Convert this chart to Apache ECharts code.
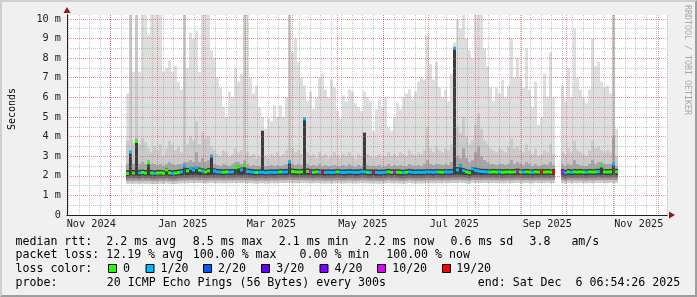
<!DOCTYPE html>
<html><head><meta charset="utf-8">
<script src="https://cdn.jsdelivr.net/npm/echarts@6/dist/echarts.min.js"></script>
<style>
html,body{margin:0;padding:0;background:#f0f0f0;}
#frame{position:relative;width:697px;height:297px;box-sizing:border-box;border-top:2px solid #cfcfcf;border-left:2px solid #cfcfcf;border-right:2px solid #9e9e9e;border-bottom:2px solid #9e9e9e;background:#f0f0f0;}
#chart{position:absolute;left:-2px;top:-2px;width:697px;height:297px;}
</style></head>
<body><div id="frame"><div id="chart"></div></div>
<script>
// ---- axis / time frame (days relative to 2024-12-01 00:00 UTC) ----
const X_MIN = -28.667, X_MAX = 371.333;
const Y_MAX = 10.2;
const DATA_START = 10.667;   // first smoke column
const STEP = 2;              // days per column

const yTickLabels = ['0','1 m','2 m','3 m','4 m','5 m','6 m','7 m','8 m','9 m','10 m'];
const xTickLabels = ['Nov 2024','Jan 2025','Mar 2025','May 2025','Jul 2025','Sep 2025','Nov 2025'];
const xTickMonths = [[2024,10],[2025,0],[2025,2],[2025,4],[2025,6],[2025,8],[2025,10]];

// ---- smoke (ms) ----
const smokeMax = [
6.2,10.3,7.3,10.3,7.3,10.3,10.3,9.2,10.3,10.3,
10.3,10.3,7.3,7.5,7.9,7.3,7.6,6.8,6.4,10.3,
7.5,9.3,9.0,9.4,7.3,10.3,10.3,10.3,8.4,8.0,
7.0,6.5,5.5,5.0,6.3,6.0,7.5,6.8,7.2,10.3,
10.3,7.0,6.2,6.6,5.5,5.0,4.4,4.9,4.8,5.6,
5.0,5.6,5.0,6.0,10.3,8.3,9.0,7.8,7.0,6.6,
5.8,6.3,5.4,6.0,7.0,7.2,6.4,6.0,6.9,6.5,
5.3,4.9,6.1,5.8,6.4,6.3,5.7,5.5,5.3,6.3,
6.0,5.8,4.3,5.4,5.9,5.5,6.0,4.5,4.3,5.0,
5.7,5.4,6.0,6.2,6.4,5.9,6.3,6.8,7.0,6.9,
9.2,7.7,6.9,7.8,6.5,6.0,6.4,5.8,7.2,8.8,
10.0,9.5,10.3,9.0,8.4,8.0,10.3,10.3,10.3,8.5,
7.6,6.5,5.8,6.5,6.2,6.9,6.0,6.6,9.0,7.0,
8.0,7.0,6.5,8.5,6.4,5.5,6.8,4.6,5.0,7.2,
6.0,8.3,6.0,null,null,6.6,5.8,7.5,6.0,9.5,
7.0,6.4,6.0,5.7,6.4,9.0,7.6,7.8,6.8,6.5,
6.6,6.2,10.3,4.4];
const smokeP9 = [
3.8,10.3,3.7,10.3,3.6,3.9,3.7,3.4,3.2,3.5,
3.3,3.6,3.0,3.4,3.8,3.6,3.3,3.5,3.2,10.3,
3.6,4.0,3.8,4.8,3.6,4.2,3.9,4.0,3.5,3.3,
3.1,3.0,3.3,3.2,3.0,3.1,3.4,3.2,3.3,10.3,
3.2,3.0,3.1,2.9,3.0,3.2,3.0,2.9,3.1,3.0,
3.2,3.0,3.1,3.3,10.3,3.4,3.2,3.3,3.1,3.6,
3.2,3.0,3.1,2.9,3.2,3.0,3.1,2.9,3.0,3.2,
3.0,2.9,3.1,3.0,3.2,3.0,2.9,3.1,3.0,3.4,
3.1,3.0,2.9,3.0,3.1,2.9,3.0,3.2,3.0,3.1,
3.0,3.2,3.1,3.0,3.3,3.1,3.0,3.2,3.1,3.3,
4.5,3.4,3.2,3.5,3.3,3.2,3.4,3.3,3.6,4.0,
4.5,4.2,5.0,4.0,3.6,3.8,4.6,5.2,4.4,3.8,
3.6,3.4,3.3,3.2,3.4,3.3,3.2,3.5,3.9,3.4,
3.5,3.3,3.2,3.6,3.3,3.1,3.4,3.0,3.1,3.3,
3.2,3.6,3.1,null,null,3.2,3.1,3.4,3.2,3.8,
3.3,3.2,3.1,3.0,3.3,3.8,3.4,3.5,3.3,3.2,
3.3,3.2,10.3,3.0];
const smokeP8 = [
2.6,3.3,2.6,3.9,2.6,2.7,2.6,2.8,2.6,2.6,
2.55,2.6,2.5,2.6,2.7,2.6,2.55,2.6,2.6,2.7,
2.7,2.8,2.7,3.2,2.7,2.9,2.7,2.8,3.1,2.6,
2.55,2.5,2.6,2.55,2.5,2.6,2.7,2.7,2.6,2.8,
2.6,2.5,2.55,2.5,2.5,2.5,2.5,2.5,2.55,2.5,
2.55,2.5,2.55,2.6,2.8,2.6,2.55,2.6,2.55,2.6,
2.6,2.5,2.55,2.5,2.6,2.5,2.55,2.5,2.5,2.55,
2.5,2.5,2.55,2.5,2.6,2.5,2.45,2.55,2.5,2.5,
2.55,2.5,2.5,2.5,2.55,2.45,2.5,2.6,2.5,2.55,
2.5,2.55,2.5,2.5,2.6,2.55,2.5,2.55,2.5,2.6,
2.8,2.6,2.55,2.6,2.6,2.55,2.6,2.55,2.7,2.7,
3.0,2.9,3.4,2.9,2.7,2.8,3.2,3.5,3.0,2.8,
2.7,2.6,2.6,2.55,2.6,2.6,2.55,2.6,2.8,2.6,
2.7,2.6,2.55,2.7,2.6,2.5,2.6,2.5,2.55,2.6,
2.55,2.7,2.55,null,null,2.6,2.5,2.6,2.55,2.8,
2.6,2.55,2.5,2.5,2.6,2.8,2.6,2.7,2.7,2.6,
2.6,2.6,4.0,2.5];
const smokeP7 = [
2.28,3.25,2.3,3.8,2.3,2.32,2.3,2.7,2.3,2.28,
2.3,2.3,2.28,2.4,2.3,2.28,2.3,2.32,2.35,2.56,
2.4,2.45,2.42,2.5,2.42,2.38,2.35,2.4,3.05,2.38,
2.35,2.34,2.33,2.35,2.34,2.35,2.5,2.52,2.42,2.58,
2.37,2.35,2.33,2.32,2.33,4.3,2.31,2.32,2.33,2.32,
2.33,2.35,2.34,2.35,2.76,2.37,2.35,2.34,2.35,4.95,
2.37,2.35,2.33,2.35,2.34,2.33,2.32,2.33,2.32,2.33,
2.35,2.33,2.32,2.33,2.34,2.33,2.32,2.33,2.35,4.2,
2.33,2.32,2.33,2.32,2.31,2.32,2.33,2.35,2.33,2.34,
2.33,2.32,2.31,2.33,2.35,2.33,2.32,2.33,2.32,2.33,
2.35,2.34,2.33,2.35,2.34,2.33,2.35,2.34,2.35,8.55,
2.45,2.58,2.4,2.35,2.31,2.45,2.42,2.38,2.36,2.35,
2.35,2.34,2.35,2.34,2.35,2.33,2.34,2.35,2.34,2.35,
2.37,2.35,2.34,2.35,2.34,2.33,2.35,2.34,2.35,2.34,
2.35,2.34,2.35,null,null,2.35,2.3,2.35,2.33,2.35,
2.34,2.35,2.34,2.33,2.35,2.34,2.35,2.36,2.56,2.35,
2.34,2.35,2.66,2.35];
const medianRtt = [
2.12,3.2,2.14,3.75,2.15,2.17,2.14,2.65,2.14,2.12,
2.14,2.15,2.13,2.3,2.15,2.12,2.14,2.16,2.2,2.5,
2.25,2.38,2.3,2.42,2.28,2.24,2.2,2.25,3.0,2.24,
2.2,2.19,2.18,2.2,2.19,2.2,2.42,2.45,2.3,2.52,
2.22,2.2,2.18,2.17,2.18,2.18,2.16,2.17,2.18,2.17,
2.18,2.2,2.19,2.2,2.7,2.22,2.2,2.19,2.2,4.9,
2.22,2.2,2.18,2.2,2.19,2.18,2.17,2.18,2.17,2.18,
2.2,2.18,2.17,2.18,2.19,2.18,2.17,2.18,2.2,2.2,
2.18,2.17,2.18,2.17,2.16,2.17,2.18,2.2,2.18,2.19,
2.18,2.17,2.16,2.18,2.2,2.18,2.17,2.18,2.17,2.18,
2.2,2.19,2.18,2.2,2.19,2.18,2.2,2.19,2.2,8.5,
2.3,2.5,2.26,2.2,2.16,2.36,2.28,2.24,2.22,2.21,
2.2,2.19,2.2,2.19,2.2,2.18,2.19,2.2,2.19,2.2,
2.22,2.2,2.19,2.2,2.19,2.18,2.2,2.19,2.2,2.19,
2.2,2.19,2.2,null,null,2.2,2.15,2.2,2.18,2.2,
2.19,2.2,2.19,2.18,2.2,2.19,2.2,2.21,2.5,2.2,
2.19,2.2,2.6,2.2];
const smokeP3 = [
2.0,2.02,2.01,2.02,2.0,2.03,2.01,2.02,2.0,1.99,
2.01,2.02,2.0,2.03,2.01,1.99,2.0,2.02,2.03,2.05,
2.04,2.06,2.05,2.07,2.04,2.05,2.03,2.04,2.06,2.05,
2.05,2.04,2.03,2.05,2.04,2.05,2.06,2.06,2.05,2.07,
2.05,2.04,2.03,2.02,2.03,2.04,2.02,2.03,2.04,2.03,
2.04,2.05,2.04,2.05,2.06,2.05,2.04,2.04,2.05,2.06,
2.05,2.04,2.03,2.05,2.04,2.03,2.02,2.03,2.02,2.03,
2.05,2.03,2.02,2.03,2.04,2.03,2.02,2.03,2.05,2.05,
2.03,2.02,2.03,2.02,2.01,2.02,2.03,2.05,2.03,2.04,
2.03,2.02,2.01,2.03,2.05,2.03,2.02,2.03,2.02,2.03,
2.05,2.04,2.03,2.05,2.04,2.03,2.05,2.04,2.05,2.06,
2.06,2.07,2.05,2.04,2.01,2.06,2.05,2.05,2.04,2.05,
2.05,2.04,2.05,2.04,2.05,2.03,2.04,2.05,2.04,2.05,
2.06,2.05,2.04,2.05,2.04,2.03,2.05,2.04,2.05,2.04,
2.05,2.04,2.05,null,null,2.05,2.0,2.05,2.03,2.05,
2.04,2.05,2.04,2.03,2.05,2.04,2.05,2.06,2.05,2.05,
2.04,2.05,2.06,2.05];
const smokeP2 = [
1.86,1.88,1.87,1.88,1.86,1.89,1.87,1.88,1.86,1.85,
1.87,1.88,1.86,1.89,1.87,1.85,1.86,1.88,1.89,1.9,
1.9,1.91,1.9,1.92,1.9,1.91,1.89,1.9,1.91,1.9,
1.9,1.9,1.89,1.91,1.9,1.9,1.91,1.92,1.9,1.92,
1.9,1.9,1.89,1.88,1.89,1.9,1.88,1.89,1.9,1.89,
1.9,1.91,1.9,1.91,1.92,1.91,1.9,1.9,1.91,1.91,
1.9,1.9,1.89,1.91,1.9,1.89,1.88,1.89,1.88,1.89,
1.91,1.89,1.88,1.89,1.9,1.89,1.88,1.89,1.91,1.9,
1.89,1.88,1.89,1.88,1.87,1.88,1.89,1.91,1.89,1.9,
1.89,1.88,1.87,1.89,1.91,1.89,1.88,1.89,1.88,1.89,
1.91,1.9,1.89,1.91,1.9,1.89,1.91,1.9,1.91,1.92,
1.92,1.92,1.91,1.9,1.87,1.92,1.91,1.91,1.9,1.91,
1.91,1.9,1.91,1.9,1.91,1.89,1.9,1.91,1.9,1.91,
1.92,1.91,1.9,1.91,1.9,1.89,1.91,1.9,1.91,1.9,
1.91,1.9,1.91,null,null,1.91,1.86,1.91,1.89,1.91,
1.9,1.91,1.9,1.89,1.91,1.9,1.91,1.92,1.91,1.91,
1.9,1.91,1.92,1.91];
const smokeP1 = [
1.74,1.75,1.74,1.75,1.73,1.76,1.74,1.75,1.73,1.72,
1.74,1.75,1.73,1.76,1.74,1.72,1.73,1.75,1.76,1.77,
1.77,1.78,1.77,1.78,1.77,1.78,1.76,1.77,1.78,1.77,
1.77,1.77,1.76,1.78,1.77,1.77,1.78,1.78,1.77,1.78,
1.77,1.77,1.76,1.75,1.76,1.77,1.75,1.76,1.77,1.76,
1.77,1.78,1.77,1.78,1.78,1.78,1.77,1.77,1.78,1.78,
1.77,1.77,1.76,1.78,1.77,1.76,1.75,1.76,1.75,1.76,
1.78,1.76,1.75,1.76,1.77,1.76,1.75,1.76,1.78,1.77,
1.76,1.75,1.76,1.75,1.74,1.75,1.76,1.78,1.76,1.77,
1.76,1.75,1.74,1.76,1.78,1.76,1.75,1.76,1.75,1.76,
1.78,1.77,1.76,1.78,1.77,1.76,1.78,1.77,1.78,1.78,
1.79,1.79,1.78,1.77,1.74,1.79,1.78,1.78,1.77,1.78,
1.78,1.77,1.78,1.77,1.78,1.76,1.77,1.78,1.77,1.78,
1.79,1.78,1.77,1.78,1.77,1.76,1.78,1.77,1.78,1.77,
1.78,1.77,1.78,null,null,1.78,1.73,1.78,1.76,1.78,
1.77,1.78,1.77,1.76,1.78,1.77,1.78,1.79,1.78,1.78,
1.77,1.78,1.79,1.78];
const smokeMin = [
1.59,1.6,1.59,1.6,1.58,1.61,1.59,1.6,1.58,1.57,
1.59,1.6,1.58,1.61,1.59,1.57,1.58,1.6,1.61,1.62,
1.62,1.63,1.62,1.63,1.62,1.63,1.61,1.62,1.63,1.62,
1.62,1.62,1.61,1.63,1.62,1.62,1.63,1.63,1.62,1.63,
1.62,1.62,1.61,1.6,1.61,1.62,1.6,1.61,1.62,1.61,
1.62,1.63,1.62,1.63,1.63,1.63,1.62,1.62,1.63,1.63,
1.62,1.62,1.61,1.63,1.62,1.61,1.6,1.61,1.6,1.61,
1.63,1.61,1.6,1.61,1.62,1.61,1.6,1.61,1.63,1.62,
1.61,1.6,1.61,1.6,1.59,1.6,1.61,1.63,1.61,1.62,
1.61,1.6,1.59,1.61,1.63,1.61,1.6,1.61,1.6,1.61,
1.63,1.62,1.61,1.63,1.62,1.61,1.63,1.62,1.63,1.63,
1.64,1.64,1.63,1.62,1.59,1.64,1.63,1.63,1.62,1.63,
1.63,1.62,1.63,1.62,1.63,1.61,1.62,1.63,1.62,1.63,
1.64,1.63,1.62,1.63,1.62,1.61,1.63,1.62,1.63,1.62,
1.63,1.62,1.63,null,null,1.63,1.58,1.63,1.61,1.63,
1.62,1.63,1.62,1.61,1.63,1.62,1.63,1.64,1.63,1.63,
1.62,1.63,1.64,1.63];
// lost pings (out of 20) per column
const lossCount = [
0,1,0,0,1,0,0,0,0,1,
0,0,0,0,0,1,0,0,1,1,
0,1,1,1,0,1,0,0,1,1,
1,1,0,0,1,1,0,0,1,0,
1,1,1,0,1,1,1,1,1,1,
1,0,1,1,1,0,0,0,0,1,
0,10,0,0,1,19,1,1,1,1,
0,1,1,1,1,1,1,1,1,1,
0,1,19,1,1,1,1,0,0,10,
0,0,1,0,1,1,1,1,1,1,
1,1,1,1,0,0,1,1,1,1,
1,1,1,0,0,1,1,1,1,1,
1,0,0,0,1,0,0,0,0,0,
10,0,1,0,0,1,0,0,19,0,
0,0,19,null,null,10,1,0,1,0,
0,0,0,1,0,0,0,1,0,0,
0,0,1,0];

// legend
const lossLabels = ['0','1/20','2/20','3/20','4/20','10/20','19/20'];
const lossThresholds = [0,1,2,3,4,10,19];
const lossColors = ['#26ff00','#00b8ff','#0059ff','#5e00ff','#7e00ff','#dd00ff','#ff0000'];

// ---- helpers ----
const DAY = 86400000, ORIGIN = Date.UTC(2024, 11, 1);
const dayOf = (y, m, d) => (Date.UTC(y, m, d) - ORIGIN) / DAY;
function lossColor(n) {
  let c = lossColors[0];
  for (let k = 0; k < lossThresholds.length; k++) if (n >= lossThresholds[k]) c = lossColors[k];
  return c;
}
const monthStarts = [];
for (let k = -2; k <= 13; k++) { const d = dayOf(2024, 11 + k, 1); if (d > X_MIN && d < X_MAX) monthStarts.push(d); }
const sundays = [];
for (let d = -35; d < X_MAX; d += 7) if (d > X_MIN) sundays.push(d);
const labelDays = xTickMonths.map(m => dayOf(m[0], m[1], 1) + 17.5);

const FONT = '"DejaVu Sans Mono", monospace';

function bandSeries(values, color) {
  return {
    type: 'custom', z: 1, silent: true, clip: true,
    data: values.map((v, i) => [DATA_START + i * STEP, v == null ? '-' : v]),
    encode: { x: 0, y: 1 },
    renderItem: function (params, api) {
      const v = api.value(1);
      if (isNaN(v)) return null;
      const t = api.value(0);
      const a = api.coord([t, v]), b = api.coord([t + STEP, 0]);
      const x0 = Math.round(a[0]), x1 = Math.round(b[0]);
      return { type: 'rect', shape: { x: x0, y: a[1], width: x1 - x0, height: b[1] - a[1] }, style: { fill: color } };
    }
  };
}
function gridSeries(days, color, z) {
  return {
    type: 'custom', z: z, silent: true,
    data: days.map(d => [d, 0]), encode: { x: 0, y: 1 },
    renderItem: function (params, api) {
      const p = api.coord([api.value(0), 0]);
      const x = Math.round(p[0]) + 0.5;
      const cs = params.coordSys;
      return { type: 'line', shape: { x1: x, y1: cs.y, x2: x, y2: cs.y + cs.height },
        style: { stroke: color, lineWidth: 1, lineDash: [1, 1] } };
    }
  };
}

const GRID_MINOR = 'rgba(143,143,143,0.5)';
const GRID_MAJOR = 'rgba(222,80,80,0.6)';

const series = [
  bandSeries(smokeMax, '#dedede'),
  bandSeries(smokeP9, '#cacaca'),
  bandSeries(smokeP8, '#a6a6a6'),
  bandSeries(smokeP7, '#3c3c3c'),
  bandSeries(smokeP3, '#6c6c6c'),
  bandSeries(smokeP2, '#9c9c9c'),
  bandSeries(smokeP1, '#cacaca'),
  bandSeries(smokeMin, '#ffffff'),
  gridSeries(sundays, GRID_MINOR, 3),
  gridSeries(monthStarts, GRID_MAJOR, 3),
  {
    type: 'custom', z: 5, silent: true, clip: true,
    data: medianRtt.map((v, i) => [DATA_START + i * STEP, v == null ? '-' : v, lossCount[i] == null ? 0 : lossCount[i]]),
    encode: { x: 0, y: 1 },
    renderItem: function (params, api) {
      const v = api.value(1);
      if (isNaN(v)) return null;
      const t = api.value(0);
      const a = api.coord([t, v]), b = api.coord([t + STEP, v]);
      const x0 = Math.round(a[0]), x1 = Math.round(b[0]);
      return { type: 'rect', shape: { x: x0, y: a[1] - 1.5, width: x1 - x0, height: 3 }, style: { fill: lossColor(api.value(2)) } };
    }
  }
];

// ---- legend graphics ----
const graphics = [];
function txt(x, y, s, opt) {
  graphics.push(Object.assign({ type: 'text', x: x, y: y, silent: true,
    style: Object.assign({ text: s, font: '11.6px ' + FONT, fill: '#000', verticalAlign: 'middle' }, (opt || {}).style || {}) },
    opt && opt.rotation != null ? { rotation: opt.rotation } : {}));
}
txt(15.5, 241.7, 'median rtt:  2.2 ms avg');
txt(192.8, 241.7, '8.5 ms max');
txt(278.8, 241.7, '2.1 ms min');
txt(364.5, 241.7, '2.2 ms now');
txt(450.5, 241.7, '0.6 ms sd');
txt(529.5, 241.7, '3.8   am/s');
txt(15.5, 255.2, 'packet loss: 12.19 % avg');
txt(192.8, 255.2, '100.00 % max');
txt(299.5, 255.2, '0.00 % min');
txt(386.2, 255.2, '100.00 % now');
txt(15.5, 269, 'loss color:');
const boxX = [108.5, 146, 203.5, 261.5, 320, 377.5, 442.5];
const boxLabelX = [123, 160.5, 218, 276.2, 334.5, 392.2, 456.2];
lossLabels.forEach((l, k) => {
  graphics.push({ type: 'rect', silent: true, shape: { x: boxX[k], y: 264.5, width: 8, height: 8 },
    style: { fill: lossColors[k], stroke: '#000', lineWidth: 1 } });
  txt(boxLabelX[k], 269, l);
});
txt(15.5, 282.8, 'probe:');
txt(106.8, 282.8, '20 ICMP Echo Pings (56 Bytes) every 300s');
txt(477.8, 282.8, 'end: Sat Dec  6 06:54:26 2025');
txt(12, 109, 'Seconds', { rotation: Math.PI / 2, style: { font: '10px ' + FONT, align: 'center' } });
txt(687.5, 60, 'RRDTOOL / TOBI OETIKER', { rotation: -Math.PI / 2, style: { font: '8.3px ' + FONT, fill: '#a8a8a8', align: 'center' } });

const chart = echarts.init(document.getElementById('chart'), null, { renderer: 'canvas' });
chart.setOption({
  animation: false,
  backgroundColor: 'transparent',
  grid: { left: 67, top: 15, width: 600, height: 200, containLabel: false, show: true, backgroundColor: '#ffffff', borderWidth: 0 },
  xAxis: [{
    type: 'value', min: X_MIN, max: X_MAX, z: 6,
    axisLine: { show: true, onZero: false, lineStyle: { color: '#202020', width: 1 } },
    axisTick: { show: false }, splitLine: { show: false },
    axisLabel: {
      customValues: labelDays, margin: 4, fontFamily: FONT, fontSize: 10.2, color: '#202020',
      formatter: function (v) { const k = labelDays.findIndex(d => Math.abs(d - v) < 1e-6); return k >= 0 ? xTickLabels[k] : ''; }
    }
  }, {
    type: 'value', min: X_MIN, max: X_MAX, z: 5, position: 'bottom',
    axisLine: { show: true, onZero: false, symbol: ['none', 'triangle'], symbolSize: [7, 6], symbolOffset: [0, 5], lineStyle: { color: '#8b1a1a' } },
    axisTick: { show: false }, axisLabel: { show: false }, splitLine: { show: false }
  }],
  yAxis: [{
    type: 'value', min: 0, max: Y_MAX, interval: 0.5, z: 6,
    axisLine: { show: true, onZero: false, lineStyle: { color: '#202020', width: 1 } },
    axisTick: { show: false },
    axisLabel: {
      margin: 6, fontFamily: FONT, fontSize: 10.2, color: '#202020', showMaxLabel: false,
      formatter: function (v) { const r = Math.round(v); return Math.abs(v - r) < 1e-6 && r < yTickLabels.length ? yTickLabels[r] : ''; }
    },
    splitLine: { show: true, showMaxLine: false, lineStyle: { color: [GRID_MAJOR, GRID_MINOR], type: [1, 1], width: 1 } }
  }, {
    type: 'value', min: 0, max: Y_MAX, z: 5, position: 'left',
    axisLine: { show: true, onZero: false, symbol: ['none', 'triangle'], symbolSize: [7, 6], symbolOffset: [0, 5], lineStyle: { color: '#8b1a1a' } },
    axisTick: { show: false }, axisLabel: { show: false }, splitLine: { show: false }
  }],
  series: series,
  graphic: graphics
});
</script>
</body></html>
